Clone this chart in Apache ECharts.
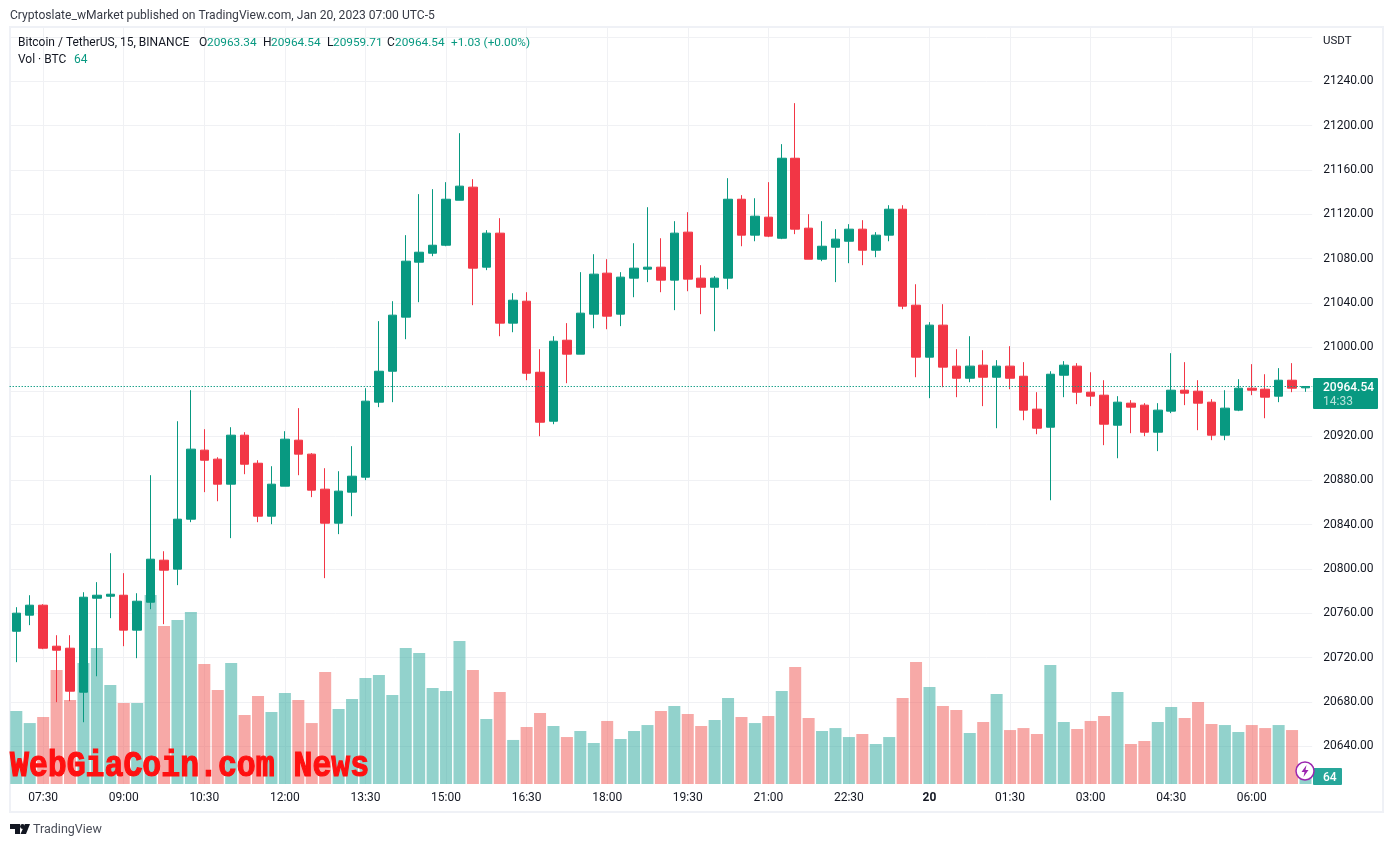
<!DOCTYPE html>
<html><head><meta charset="utf-8">
<style>html,body{margin:0;padding:0;background:#fff}#c{width:1393px;height:847px}</style>
<script src="https://cdn.jsdelivr.net/npm/echarts@6/dist/echarts.min.js"></script>
</head><body><div id="c"></div>
<script>
const categories = ["07:00","07:15","07:30","07:45","08:00","08:15","08:30","08:45","09:00","09:15","09:30","09:45","10:00","10:15","10:30","10:45","11:00","11:15","11:30","11:45","12:00","12:15","12:30","12:45","13:00","13:15","13:30","13:45","14:00","14:15","14:30","14:45","15:00","15:15","15:30","15:45","16:00","16:15","16:30","16:45","17:00","17:15","17:30","17:45","18:00","18:15","18:30","18:45","19:00","19:15","19:30","19:45","20:00","20:15","20:30","20:45","21:00","21:15","21:30","21:45","22:00","22:15","22:30","22:45","23:00","23:15","23:30","23:45","20","00:15","00:30","00:45","01:00","01:15","01:30","01:45","02:00","02:15","02:30","02:45","03:00","03:15","03:30","03:45","04:00","04:15","04:30","04:45","05:00","05:15","05:30","05:45","06:00","06:15","06:30","06:45","07:00"];
const opens = [20743.7,20758.2,20767.2,20730.2,20728.4,20688.7,20773.5,20775.3,20776.2,20744.7,20769.9,20807.8,20799.7,20844.8,20907.1,20899.0,20876.4,20920.6,20895.3,20847.5,20874.6,20916.1,20903.5,20871.9,20841.2,20869.2,20882.7,20950.4,20978.3,21027.1,21076.7,21084.8,21092.0,21132.6,21144.4,21072.2,21102.9,21021.7,21041.5,20977.4,20933.2,21006.3,20993.7,21029.8,21066.8,21029.8,21062.3,21070.4,21072.2,21060.5,21103.8,21062.3,21054.1,21062.3,21133.5,21101.1,21117.3,21098.3,21170.5,21107.4,21079.4,21090.2,21095.6,21106.5,21087.5,21101.1,21124.5,21037.9,20991.0,21019.9,20982.9,20972.0,20983.8,20972.9,20982.9,20973.8,20944.1,20927.8,20974.7,20982.9,20959.4,20956.7,20929.6,20949.5,20947.7,20923.3,20942.3,20961.2,20960.3,20950.4,20920.6,20943.2,20963.0,20962.1,20955.8,20970.2,20963.34];
const closes = [20760.0,20767.2,20728.4,20726.6,20689.6,20774.4,20776.2,20777.1,20744.7,20770.8,20808.7,20798.8,20844.8,20908.0,20898.0,20876.4,20920.6,20894.4,20847.5,20876.4,20917.0,20903.5,20871.0,20841.2,20870.1,20883.6,20951.3,20978.3,21028.9,21077.6,21085.7,21092.0,21133.5,21145.3,21071.3,21102.9,21021.7,21042.4,20976.5,20932.3,21005.4,20993.7,21030.7,21065.9,21028.0,21063.2,21071.3,21072.2,21060.5,21102.9,21061.4,21054.1,21062.3,21133.5,21101.1,21118.2,21100.2,21170.5,21106.5,21079.4,21091.1,21097.5,21106.5,21087.5,21101.1,21124.5,21037.0,20991.0,21019.9,20982.0,20972.0,20982.9,20972.9,20982.9,20972.0,20943.2,20926.9,20975.6,20983.8,20959.4,20955.8,20930.5,20950.4,20945.9,20923.3,20943.2,20961.2,20958.5,20949.5,20920.6,20945.0,20963.0,20961.2,20954.9,20970.2,20963.0,20964.54];
const lows = [20715.8,20749.2,20727.5,20679.7,20680.6,20661.6,20703.1,20755.5,20730.2,20719.4,20763.6,20750.1,20785.3,20842.1,20869.2,20861.0,20827.7,20885.4,20842.1,20840.3,20874.6,20884.5,20864.7,20791.6,20831.3,20847.5,20880.0,20945.9,20950.4,21007.2,21040.6,21082.1,21091.1,21132.6,21037.9,21069.5,21009.9,21013.5,20970.2,20919.7,20930.5,20967.5,20993.7,21017.1,21016.2,21019.0,21045.1,21058.7,21049.6,21033.4,21050.5,21029.8,21014.4,21052.3,21091.1,21095.6,21099.3,21097.5,21102.0,21079.4,21077.6,21058.7,21075.8,21074.0,21081.2,21095.6,21034.3,20972.9,20954.0,20963.9,20954.9,20968.4,20946.8,20926.9,20962.1,20934.1,20921.5,20861.9,20954.9,20948.6,20946.8,20911.6,20899.8,20922.4,20919.7,20906.2,20940.5,20947.7,20925.1,20916.1,20916.1,20942.3,20956.7,20935.9,20950.4,20959.4,20959.71];
const highs = [20765.4,20776.2,20768.1,20740.1,20740.1,20778.9,20788.0,20814.1,20796.1,20778.0,20884.5,20815.9,20933.2,20961.2,20926.0,20900.7,20927.8,20923.3,20898.0,20892.6,20924.2,20945.0,20904.4,20890.8,20888.1,20910.7,20963.0,21023.5,21041.5,21101.1,21138.1,21142.6,21148.9,21193.1,21151.6,21105.6,21116.4,21048.7,21049.6,20998.2,21009.9,21021.7,21067.7,21083.9,21079.4,21067.7,21093.8,21126.3,21098.3,21113.7,21121.8,21074.0,21064.1,21152.5,21137.2,21134.4,21148.9,21183.2,21220.2,21120.0,21113.7,21106.5,21111.0,21114.6,21103.8,21128.1,21128.1,21056.8,21022.6,21038.8,20998.2,21009.9,20997.3,20988.3,21000.9,20986.5,20959.4,20978.3,20987.4,20985.6,20977.4,20970.2,20955.8,20952.2,20949.5,20949.5,20994.6,20986.5,20970.2,20953.1,20961.2,20971.1,20984.7,20975.6,20981.1,20985.6,20964.54];
const volumes = [772,645,709,1206,889,1280,1439,1047,857,857,
2000,1672,1735,1820,1270,995,1280,730,931,762,
963,889,645,1185,794,899,1121,1153,942,1439,
1386,1016,984,1513,1206,688,973,466,603,751,
614,497,561,434,667,476,561,624,772,825,
741,614,677,910,709,645,719,984,1238,698,
561,592,497,529,423,497,910,1291,1026,825,
783,540,656,952,571,592,529,1259,656,582,
667,719,973,423,455,656,815,698,868,635,
624,550,624,592,624,571,64];
const lastPrice = 20964.54;
const priceMin = 20640, priceMax = 21280, priceStep = 40, volMax = 8000;

const UP = '#089981', DOWN = '#F23645', VOL_UP = 'rgba(38,166,154,0.5)', VOL_DOWN = 'rgba(239,83,80,0.5)';
const GRID = '#F0F1F4', INK = '#131722', FONT = 'Roboto, sans-serif';
const candleData = categories.map((_, i) => [opens[i], closes[i], lows[i], highs[i]]);
const volData = volumes.map((v, i) => ({ value: v, itemStyle: { color: closes[i] >= opens[i] ? VOL_UP : VOL_DOWN } }));
const gridLeft = 9.6, gridWidth = 1302.6;
const showLabel = i => i >= 2 && (i - 2) % 6 === 0;

function txt(x, y, s, fill, size, extra) {
  return { type: 'text', x, y, z: 20, silent: true,
    style: Object.assign({ text: s, fill: fill, font: (size || 12) + 'px ' + FONT, textVerticalAlign: 'middle', textBaseline: 'middle' }, extra || {}) };
}
const graphics = [
  { type: 'rect', z: -1, silent: true, shape: { x: 10, y: 27, width: 1373, height: 785 }, style: { fill: 'none', stroke: '#EFF1F6', lineWidth: 2 } },
  txt(10, 16, 'Cryptoslate_wMarket published on TradingView.com, Jan 20, 2023 07:00 UTC-5', '#363A45', 12.1),
  txt(18, 43, 'Bitcoin / TetherUS, 15, BINANCE', INK, 12),
  txt(199, 43, 'O', INK, 12), txt(207, 43, '20963.34', UP, 11.8),
  txt(263, 43, 'H', INK, 12), txt(271, 43, '20964.54', UP, 11.8),
  txt(327, 43, 'L', INK, 12), txt(333, 43, '20959.71', UP, 11.8),
  txt(387, 43, 'C', INK, 12), txt(395, 43, '20964.54', UP, 11.8),
  txt(451, 43, '+1.03 (+0.00%)', UP, 11.8),
  txt(18, 60, 'Vol \u00B7 BTC', INK, 12), txt(74, 60, '64', UP, 12),
  txt(1323, 41, 'USDT', INK, 11.5),
  { type: 'rect', z: 20, silent: true, shape: { x: 1313, y: 378, width: 65, height: 31, r: 1 }, style: { fill: UP } },
  txt(1323, 388, '20964.54', '#fff', 12, { font: '500 12px ' + FONT }),
  txt(1323, 402, '14:33', '#B8E3DA', 12),
  { type: 'rect', z: 20, silent: true, shape: { x: 1313, y: 768, width: 29, height: 17, r: 1 }, style: { fill: '#26A69A' } },
  txt(1323, 778, '64', '#fff', 12, { font: '500 12px ' + FONT }),
  { type: 'circle', z: 21, silent: true, shape: { cx: 1305, cy: 771, r: 9 }, style: { fill: '#fff', stroke: '#9C27B0', lineWidth: 1.5 } },
  { type: 'polygon', z: 22, silent: true, shape: { points: [[1306.5,765],[1301.5,772],[1304.5,772],[1303.5,777],[1308.5,770],[1305.5,770]] }, style: { fill: '#9C27B0' } },
  { type: 'polygon', z: 20, silent: true, shape: { points: [[10,824],[20,824],[20,834],[15,834],[15,829],[10,829]] }, style: { fill: '#131722' } },
  { type: 'circle', z: 20, silent: true, shape: { cx: 22.5, cy: 826.5, r: 2.4 }, style: { fill: '#131722' } },
  { type: 'polygon', z: 20, silent: true, shape: { points: [[25,824],[30,824],[26,834],[20.5,834]] }, style: { fill: '#131722' } },
  txt(33, 830, 'TradingView', '#4A4E59', 12.5),
  { type: 'text', z: 25, silent: true, x: 10, y: 767, scaleX: 0.875,
    style: { text: 'WebGiaCoin.com News', fill: '#FF1010', stroke: '#FF1010', lineWidth: 1.2, font: 'bold 36px "Liberation Mono", monospace', textVerticalAlign: 'middle', textBaseline: 'middle' } }
];

const chart = echarts.init(document.getElementById('c'), null, { renderer: 'canvas' });
chart.setOption({
  animation: false,
  backgroundColor: '#fff',
  graphic: { elements: graphics },
  grid: [
    { left: gridLeft, width: gridWidth, top: 36.87, height: 709.3 },
    { left: gridLeft, width: gridWidth, top: 28, height: 756 }
  ],
  xAxis: [
    { type: 'category', gridIndex: 0, data: categories, boundaryGap: true,
      axisLine: { show: false }, axisTick: { show: false }, axisLabel: { show: false }, splitLine: { show: false } },
    { type: 'category', gridIndex: 1, data: categories, boundaryGap: true,
      axisLine: { show: false }, axisTick: { show: false },
      splitLine: { show: true, alignWithLabel: true, interval: i => showLabel(i), lineStyle: { color: GRID, width: 1 } },
      axisLabel: { interval: i => showLabel(i), margin: 8, hideOverlap: false,
        formatter: v => v === '20' ? '{b|20}' : v,
        color: '#131722', fontFamily: 'Roboto, sans-serif', fontSize: 12,
        rich: { b: { fontWeight: 'bold', color: '#131722', fontFamily: 'Roboto, sans-serif', fontSize: 12 } } } }
  ],
  yAxis: [
    { type: 'value', gridIndex: 0, position: 'right', min: priceMin, max: priceMax, interval: priceStep, scale: true,
      axisLine: { show: false }, axisTick: { show: false },
      splitLine: { show: true, lineStyle: { color: GRID, width: 1 } },
      axisLabel: { margin: 11, padding: [2, 0, 0, 0], color: '#131722', fontFamily: 'Roboto, sans-serif', fontSize: 12,
        formatter: v => v >= priceMax ? '' : v.toFixed(2) } },
    { type: 'value', gridIndex: 1, position: 'right', min: 0, max: volMax, interval: volMax,
      axisLine: { show: false }, axisTick: { show: false }, axisLabel: { show: false }, splitLine: { show: false } }
  ],
  series: [
    { name: 'Vol', type: 'bar', xAxisIndex: 1, yAxisIndex: 1, data: volData, barWidth: 12, z: 1 },
    { name: 'BTCUSDT', type: 'candlestick', xAxisIndex: 0, yAxisIndex: 0, data: candleData, barWidth: 9, z: 3,
      itemStyle: { color: UP, color0: DOWN, borderColor: UP, borderColor0: DOWN, borderColorDoji: UP, borderWidth: 1 },
      markLine: { silent: true, symbol: 'none', animation: false, label: { show: false },
        lineStyle: { color: UP, type: [1.3, 1.7], width: 1.2, opacity: 1 },
        data: [{ yAxis: lastPrice }] } }
  ]
});
</script>
</body></html>
